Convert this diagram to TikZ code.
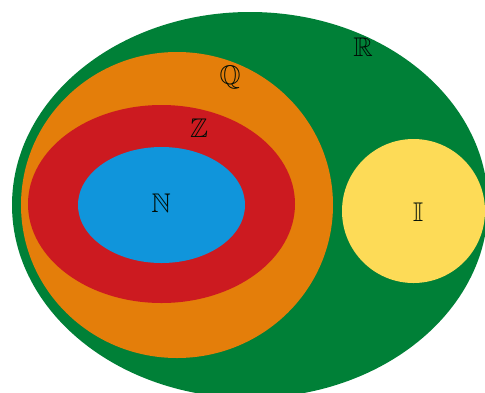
\documentclass[tikz,border=0pt]{standalone}
\usepackage{amssymb}
\definecolor{rgreen}{RGB}{0,128,55}
\definecolor{qorange}{RGB}{228,126,10}
\definecolor{zred}{RGB}{204,26,32}
\definecolor{nblue}{RGB}{16,149,219}
\definecolor{iyellow}{RGB}{253,219,87}
\tikzset{setlabel/.style={inner sep=0pt,font=\fontsize{27}{30}\selectfont,text=black!90!rgreen}}
\begin{document}
\begin{tikzpicture}[x=1pt,y=-1pt]
\useasboundingbox (0,0) rectangle (485,392);
\clip (0,0) rectangle (485,392);
\fill[rgreen] (250,205) ellipse [x radius=238, y radius=193];
\fill[qorange] (177,205) ellipse [x radius=156, y radius=153];
\fill[zred] (161.5,204) ellipse [x radius=133.5, y radius=99];
\fill[nblue] (161.5,205) ellipse [x radius=83.5, y radius=58];
\fill[iyellow] (413.5,211) ellipse [x radius=71.5, y radius=72];
\node[setlabel] (R) at (363,47) {$\mathbb{R}$};
\node[setlabel] (Q) at (230,77) {$\mathbb{Q}$};
\node[setlabel] (Z) at (199,128) {$\mathbb{Z}$};
\node[setlabel] (N) at (161,203) {$\mathbb{N}$};
\node[setlabel] (I) at (418,212) {$\mathbb{I}$};
\end{tikzpicture}
\end{document}
